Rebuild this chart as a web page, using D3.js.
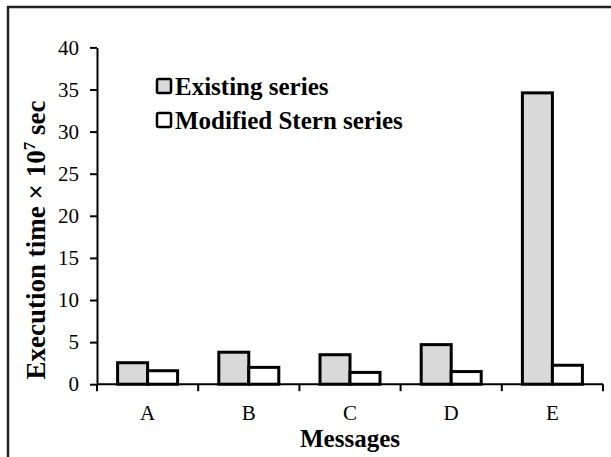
<!DOCTYPE html>
<html>
<head>
<meta charset="utf-8">
<script src="https://cdn.jsdelivr.net/npm/d3@7"></script>
<style>
  body { margin: 0; background: #fff; }
  svg { display: block; }
  svg text { font-family: "Liberation Serif", "Times New Roman", serif; fill: #000; }
</style>
</head>
<body>
<svg id="chart" width="611" height="457"></svg>
<script>
const messages = ['A', 'B', 'C', 'D', 'E']
const seriesNames = ['Existing series', 'Modified Stern series']
const existing = [2.55, 3.8, 3.5, 4.7, 34.6]
const modifiedStern = [1.6, 2.0, 1.4, 1.5, 2.25]
const yTicks = [0, 5, 10, 15, 20, 25, 30, 35, 40]
const fills = ['#d9d9d9', '#ffffff']

const svg = d3.select('#chart')
const margin = { top: 47.4, right: 8, bottom: 72.8, left: 97 }
const width = 611, height = 457

// outer frame (only top and left edges show in the picture)
svg.append('path')
  .attr('d', `M8,457 V7 H611`)
  .attr('fill', 'none')
  .attr('stroke', '#222')
  .attr('stroke-width', 2.5)

const x = d3.scaleBand()
  .domain(messages)
  .range([margin.left, width - margin.right])

const x1 = d3.scaleBand()
  .domain(seriesNames)
  .range([0, 60])

const y = d3.scaleLinear()
  .domain([0, 40])
  .range([height - margin.bottom, margin.top])

const rows = messages.map((m, i) => ({ m, values: [existing[i], modifiedStern[i]] }))

const groups = svg.append('g').selectAll('g')
  .data(rows)
  .join('g')
  .attr('transform', d => `translate(${x(d.m) + (x.bandwidth() - 60) / 2},0)`)

groups.selectAll('rect')
  .data(d => d.values.map((v, k) => ({ v, k })))
  .join('rect')
  .attr('x', d => x1(seriesNames[d.k]))
  .attr('width', x1.bandwidth())
  .attr('y', d => y(d.v))
  .attr('height', d => y(0) - y(d.v))
  .attr('fill', d => fills[d.k])
  .attr('stroke', '#000')
  .attr('stroke-width', 3)

// y axis
const yAxis = svg.append('g')
  .attr('transform', `translate(${margin.left},0)`)
  .call(d3.axisLeft(y).tickValues(yTicks).tickSize(7).tickSizeOuter(0).tickPadding(11))
yAxis.attr('font-family', null)
yAxis.select('.domain').attr('stroke', '#000').attr('stroke-width', 2)
yAxis.selectAll('.tick line').attr('stroke', '#000').attr('stroke-width', 2)
yAxis.selectAll('.tick text').attr('font-size', 21)

// x axis, ticks sit on the band edges
const xAxis = svg.append('g')
  .attr('transform', `translate(0,${y(0)})`)
xAxis.append('line')
  .attr('x1', margin.left).attr('x2', width - margin.right)
  .attr('stroke', '#000').attr('stroke-width', 2)
const bounds = messages.map(m => x(m)).concat([x(messages[messages.length - 1]) + x.bandwidth()])
xAxis.selectAll('line.tk')
  .data(bounds)
  .join('line')
  .attr('class', 'tk')
  .attr('x1', d => d).attr('x2', d => d)
  .attr('y1', 0).attr('y2', 7)
  .attr('stroke', '#000').attr('stroke-width', 2)
xAxis.selectAll('text')
  .data(messages)
  .join('text')
  .attr('x', d => x(d) + x.bandwidth() / 2)
  .attr('y', 36)
  .attr('text-anchor', 'middle')
  .attr('font-size', 21)
  .text(d => d)

// axis titles
svg.append('text')
  .attr('x', (margin.left + width - margin.right) / 2)
  .attr('y', 447)
  .attr('text-anchor', 'middle')
  .attr('font-size', 25)
  .attr('font-weight', 'bold')
  .text('Messages')

const yTitle = svg.append('text')
  .attr('transform', 'translate(45,240) rotate(-90)')
  .attr('text-anchor', 'middle')
  .attr('font-size', 27)
  .attr('font-weight', 'bold')
yTitle.append('tspan').text('Execution time × 10')
yTitle.append('tspan').attr('font-size', 17).attr('dy', -10).text('7')
yTitle.append('tspan').attr('dy', 10).text(' sec')

// legend
const legend = svg.append('g')
seriesNames.forEach((name, i) => {
  const ly = 79 + i * 34
  legend.append('rect')
    .attr('x', 157).attr('y', ly)
    .attr('width', 14).attr('height', 14)
    .attr('rx', 1.5)
    .attr('fill', fills[i])
    .attr('stroke', '#000')
    .attr('stroke-width', 2.5)
  legend.append('text')
    .attr('x', 175).attr('y', ly + 16)
    .attr('font-size', 25)
    .attr('font-weight', 'bold')
    .text(name)
})
</script>
</body>
</html>
